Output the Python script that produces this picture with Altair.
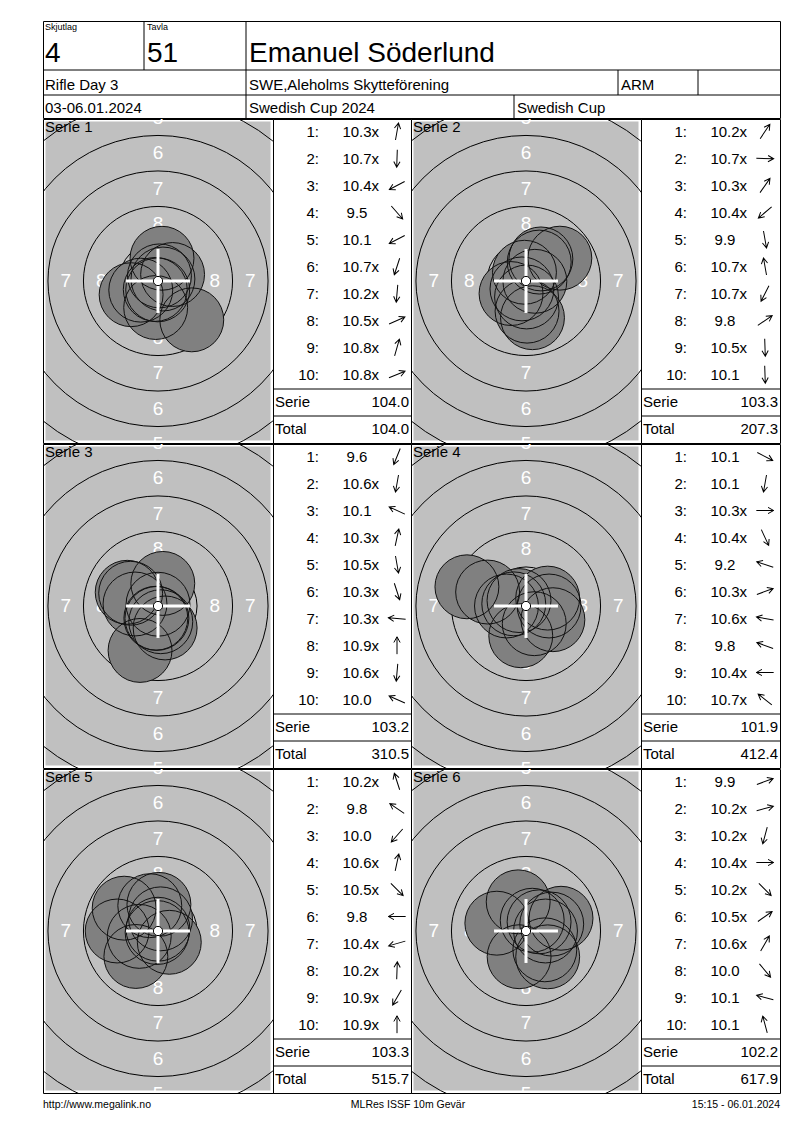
import math

import altair as alt
import pandas as pd

FONT = "Liberation Sans"

# sheet texts
skjutlag = "4"
tavla = "51"
shooter = "Emanuel Söderlund"
event = "Rifle Day 3"
club = "SWE,Aleholms Skytteförening"
team = "ARM"
dates = "03-06.01.2024"
competition = "Swedish Cup 2024"
cup = "Swedish Cup"
footer_left = "http://www.megalink.no"
footer_mid = "MLRes ISSF 10m Gevär"
footer_right = "15:15 - 06.01.2024"

# shot values as printed ("x" = inner ten), one list per serie
scores = [
    ["10.3x", "10.7x", "10.4x", "9.5", "10.1", "10.7x", "10.2x", "10.5x", "10.8x", "10.8x"],
    ["10.2x", "10.7x", "10.3x", "10.4x", "9.9", "10.7x", "10.7x", "9.8", "10.5x", "10.1"],
    ["9.6", "10.6x", "10.1", "10.3x", "10.5x", "10.3x", "10.3x", "10.9x", "10.6x", "10.0"],
    ["10.1", "10.1", "10.3x", "10.4x", "9.2", "10.3x", "10.6x", "9.8", "10.4x", "10.7x"],
    ["10.2x", "9.8", "10.0", "10.6x", "10.5x", "9.8", "10.4x", "10.2x", "10.9x", "10.9x"],
    ["9.9", "10.2x", "10.2x", "10.4x", "10.2x", "10.5x", "10.6x", "10.0", "10.1", "10.1"],
]
# direction of each hit from the centre (the small arrows), degrees clockwise from "right"
directions = [
    [280, 92, 152, 49, 153, 108, 95, 336, 286, 338],
    [304, 2, 305, 140, 80, 260, 117, 326, 88, 88],
    [112, 100, 205, 282, 80, 72, 185, 270, 95, 204],
    [27, 100, 0, 65, 198, 340, 190, 200, 180, 218],
    [252, 214, 131, 282, 45, 180, 164, 272, 120, 270],
    [340, 345, 105, 0, 45, 325, 300, 50, 195, 255],
]

ring_numbers = [9, 8, 7, 6, 5, 4]
label_rings = [8, 7, 6, 5]

# 10 m air rifle target geometry in mm
TEN_R = 0.25
RING_STEP = 2.5
PELLET = 4.5
PPM = 14.2  # pixels per mm on the sheet

TW, TH = 230, 324
ARROW = "M-1,0L1,0M0.35,-0.36L1,0L0.35,0.36"


def note(text, x, y, size=15, align="left", color="black"):
    return (
        alt.Chart(pd.DataFrame({"t": [text]}))
        .mark_text(align=align, baseline="alphabetic", fontSize=size, font=FONT, color=color)
        .encode(x=alt.value(x), y=alt.value(y), text="t:N")
    )


def line(x, y, x2, y2):
    return (
        alt.Chart(pd.DataFrame({"a": [0]}))
        .mark_rule(color="black", strokeWidth=1)
        .encode(x=alt.value(x), y=alt.value(y), x2=alt.value(x2), y2=alt.value(y2))
    )


def target(i):
    xs = alt.Scale(domain=[-TW / 2 / PPM, TW / 2 / PPM], nice=False, zero=False)
    ys = alt.Scale(domain=[-TH / 2 / PPM, TH / 2 / PPM], nice=False, zero=False)
    X = alt.X("x:Q", scale=xs, axis=None)
    Y = alt.Y("y:Q", scale=ys, axis=None)

    rings = pd.DataFrame({"ring": ring_numbers})
    rings["r"] = TEN_R + (10 - rings.ring) * RING_STEP
    rings["x"] = 0.0
    rings["y"] = 0.0
    rings["size"] = (2 * rings.r * PPM) ** 2

    lab = []
    for n in label_rings:
        mid = TEN_R + (9.5 - n) * RING_STEP
        for x, y in [(0, mid), (0, -mid), (-mid, 0), (mid, 0)]:
            lab.append({"x": x, "y": y, "t": str(n)})
    lab = pd.DataFrame(lab)

    vals = [float(s.rstrip("x")) for s in scores[i]]
    dist = [max(11.0 - v - 0.05, 0.0) * RING_STEP for v in vals]
    shots = pd.DataFrame({
        "x": [d * math.cos(math.radians(a)) for d, a in zip(dist, directions[i])],
        "y": [-d * math.sin(math.radians(a)) for d, a in zip(dist, directions[i])],
    })
    half = PELLET / 2
    cross = pd.DataFrame({"x": [-half, 0], "x2": [half, 0], "y": [0, -half], "y2": [0, half]})
    centre = pd.DataFrame({"x": [0.0], "y": [0.0]})

    bg = (
        alt.Chart(pd.DataFrame({"a": [0]}))
        .mark_rect(color="#c0c0c0")
        .encode(x=alt.value(2.5), x2=alt.value(TW - 2.5), y=alt.value(2.5), y2=alt.value(TH - 2.5))
    )
    ring_lines = (
        alt.Chart(rings)
        .mark_point(shape="circle", filled=False, color="black", strokeWidth=1, opacity=1, clip=True)
        .encode(x=X, y=Y, size=alt.Size("size:Q", scale=None, legend=None))
    )
    ring_labels = (
        alt.Chart(lab)
        .mark_text(font=FONT, fontSize=19, color="white", align="center", baseline="middle", clip=True)
        .encode(x=X, y=Y, text="t:N")
    )
    hit_fill = (
        alt.Chart(shots)
        .mark_point(shape="circle", filled=True, fill="#808080", strokeWidth=0, opacity=1,
                    size=(PELLET * PPM) ** 2, clip=True)
        .encode(x=X, y=Y)
    )
    hit_edge = (
        alt.Chart(shots)
        .mark_point(shape="circle", filled=False, color="#111111", strokeWidth=1, opacity=1,
                    size=(PELLET * PPM) ** 2, clip=True)
        .encode(x=X, y=Y)
    )
    crosshair = (
        alt.Chart(cross)
        .mark_rule(color="white", strokeWidth=3)
        .encode(x=X, x2="x2:Q", y=Y, y2="y2:Q")
    )
    dot = (
        alt.Chart(centre)
        .mark_point(shape="circle", filled=True, fill="white", stroke="black", strokeWidth=1,
                    opacity=1, size=(2.6 * TEN_R * PPM) ** 2)
        .encode(x=X, y=Y)
    )
    title = note(f"Serie {i + 1}", 2, 13)
    return alt.layer(bg, ring_lines, ring_labels, hit_fill, hit_edge, crosshair, dot, title).properties(
        width=TW, height=TH
    )


def table(i, w):
    vals = [float(s.rstrip("x")) for s in scores[i]]
    serie = sum(vals)
    total = sum(float(s.rstrip("x")) for k in range(i + 1) for s in scores[k])
    df = pd.DataFrame({
        "row": list(range(1, 11)),
        "num": [f"{k}:" for k in range(1, 11)],
        "value": [s.rstrip("x") for s in scores[i]],
        "inner": ["x" if s.endswith("x") else "" for s in scores[i]],
        "dir": directions[i],
    })
    summary = pd.DataFrame({
        "row": [11, 12],
        "name": ["Serie", "Total"],
        "value": [f"{serie:.1f}", f"{total:.1f}"],
    })
    rows = alt.Scale(domain=list(range(1, 13)), paddingInner=0, paddingOuter=0)
    Y = alt.Y("row:O", scale=rows, axis=None)
    txt = dict(font=FONT, fontSize=15, baseline="middle", color="black", dy=-1)

    base = alt.Chart(df)
    nums = base.mark_text(align="right", **txt).encode(x=alt.value(46), y=Y, text="num:N")
    values = base.mark_text(align="center", **txt).encode(x=alt.value(84), y=Y, text="value:N")
    inner = base.mark_text(align="left", **txt).encode(x=alt.value(98.5), y=Y, text="inner:N")
    arrows = base.mark_point(shape=ARROW, filled=False, color="black", strokeWidth=1, opacity=1,
                             size=300, yOffset=-1).encode(
        x=alt.value(124), y=Y, angle=alt.Angle("dir:Q", scale=None)
    )
    s = alt.Chart(summary)
    names = s.mark_text(align="left", **txt).encode(x=alt.value(2), y=Y, text="name:N")
    sums = s.mark_text(align="right", **txt).encode(x=alt.value(w - 2), y=Y, text="value:N")
    seps = s.mark_rule(color="black", strokeWidth=1).encode(
        y=alt.Y("row:O", scale=rows, axis=None, bandPosition=0)
    )
    return alt.layer(nums, values, inner, arrows, seps, names, sums).properties(width=w, height=TH)


header = alt.layer(
    line(101, 0, 101, 49),
    line(203, 0, 203, 97),
    line(0, 49, 737, 49),
    line(0, 74, 737, 74),
    line(575, 49, 575, 74),
    line(655, 49, 655, 74),
    line(471, 74, 471, 97),
    note("Skjutlag", 2, 9, 9),
    note("Tavla", 104, 9, 9),
    note(skjutlag, 2, 41, 28),
    note(tavla, 104, 41, 28),
    note(shooter, 206, 41, 28),
    note(event, 2, 69),
    note(club, 206, 69),
    note(team, 578, 69),
    note(dates, 2, 92),
    note(competition, 206, 92),
    note(cup, 474, 92),
).properties(width=737, height=97)

panel_rows = [
    alt.hconcat(target(2 * r), table(2 * r, 138), target(2 * r + 1), table(2 * r + 1, 139),
                spacing=0, bounds="flush")
    for r in range(3)
]

footer = alt.layer(
    note(footer_left, 0, 14, 10.5),
    note(footer_mid, 365, 14, 10.5, align="center"),
    note(footer_right, 737, 14, 10.5, align="right"),
).properties(width=737, height=24, view=alt.ViewBackground(stroke="transparent"))

chart = (
    alt.vconcat(header, *panel_rows, footer, spacing=-1)
    .configure_view(stroke="black", strokeWidth=1)
    .properties(padding={"left": 34, "top": 12, "right": 5, "bottom": 5})
)

chart.save("out.html", embed_options={"renderer": "svg", "actions": False})
